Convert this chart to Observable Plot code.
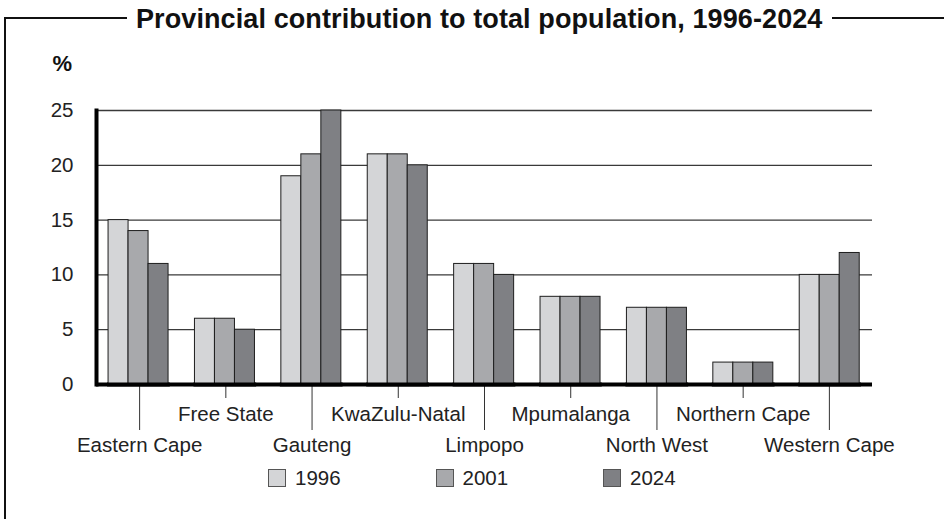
<!DOCTYPE html>
<html><head><meta charset="utf-8">
<script src="https://cdn.jsdelivr.net/npm/d3@7"></script>
<script src="https://cdn.jsdelivr.net/npm/@observablehq/plot@0.6"></script>
<style>
html,body{margin:0;padding:0;background:#fff;}
#wrap{position:relative;width:944px;height:519px;overflow:hidden;font-family:"Liberation Sans",Arial,sans-serif;color:#222;}
#frame{position:absolute;left:4px;top:17px;width:980px;height:560px;border-top:2px solid #111;border-left:2px solid #111;}
#title{position:absolute;left:127px;top:6px;padding:0 9px;background:#fff;font-weight:bold;font-size:27px;line-height:27px;letter-spacing:0.1px;white-space:nowrap;color:#111;}
#unit{position:absolute;right:872px;top:53px;font-weight:bold;font-size:22px;line-height:22px;color:#111;}
.layer{position:absolute;left:0;top:0;}
#legend{position:absolute;left:268px;top:469px;display:flex;}
.item{width:167.5px;display:flex;align-items:center;font-size:20.5px;line-height:18px;color:#222;}
.sw{width:16px;height:16px;border:1px solid #555;margin-right:9px;flex:none;}
</style></head>
<body>
<div id="wrap">
  <div id="frame"></div>
  <div id="base" class="layer"></div>
  <div id="bars" class="layer"></div>
  <div id="title">Provincial contribution to total population, 1996-2024</div>
  <div id="unit">%</div>
  <div id="legend"></div>
</div>
<script>
const provinces = ["Eastern Cape","Free State","Gauteng","KwaZulu-Natal","Limpopo","Mpumalanga","North West","Northern Cape","Western Cape"];
const years = ["1996","2001","2024"];
const v1996 = [15,6,19,21,11,8,7,2,10];
const v2001 = [14,6,21,21,11,8,7,2,10];
const v2024 = [11,5,25,20,10,8,7,2,12];
const yTicks = [0,5,10,15,20,25];
const colors = ["#d4d5d7","#a8a9ac","#7f8084"];

const W = 944, H = 519;
const margins = {marginLeft: 96, marginRight: 72, marginTop: 110, marginBottom: 135};
const bandOpts = {domain: provinces, paddingInner: 0.274, paddingOuter: 0.128, round: false};
const series = [v1996, v2001, v2024];
const rows = provinces.flatMap((p, i) => years.map((y, j) => ({province: p, year: y, value: series[j][i]})));
const style = {background: "transparent", fontFamily: "'Liberation Sans', Arial, sans-serif", fontSize: "20.5px", color: "#222", overflow: "visible"};

const base = Plot.plot({
  width: W, height: H, ...margins, style,
  x: {...bandOpts},
  y: {domain: [0, 25]},
  marks: [
    Plot.ruleY(yTicks.filter(d => d > 0), {stroke: "#3a3a3a", strokeWidth: 1.3}),
    Plot.axisY(yTicks, {tickSize: 0, tickPadding: 23, fontSize: 20.5, label: null, fill: "#222"}),
    Plot.axisX(provinces.filter((d, i) => i % 2 === 0), {tickSize: 46, tickPadding: 7, fontSize: 20.5, label: null, stroke: "#333", fill: "#222"}),
    Plot.axisX(provinces.filter((d, i) => i % 2 === 1), {tickSize: 14, tickPadding: 8, fontSize: 20.5, label: null, stroke: "#333", fill: "#222"}),
    Plot.ruleY([0], {stroke: "#000", strokeWidth: 4}),
    Plot.frame({anchor: "left", stroke: "#000", strokeWidth: 4})
  ]
});
document.getElementById("base").appendChild(base);

const bars = Plot.plot({
  width: W, height: H, ...margins, style,
  fx: {...bandOpts, axis: null, label: null},
  x: {domain: years, padding: 0, axis: null},
  y: {domain: [0, 25], axis: null},
  color: {domain: years, range: colors},
  marks: [
    Plot.barY(rows, {fx: "province", x: "year", y: "value", fill: "year", stroke: "#1e1e1e", strokeWidth: 1, inset: 0}),
    Plot.ruleY([0], {stroke: "#000", strokeWidth: 4})
  ]
});
document.getElementById("bars").appendChild(bars);

const legend = document.getElementById("legend");
years.forEach((y, i) => {
  const item = document.createElement("div");
  item.className = "item";
  const sw = document.createElement("span");
  sw.className = "sw";
  sw.style.background = colors[i];
  const t = document.createElement("span");
  t.textContent = y;
  item.appendChild(sw); item.appendChild(t);
  legend.appendChild(item);
});
</script>
</body></html>
